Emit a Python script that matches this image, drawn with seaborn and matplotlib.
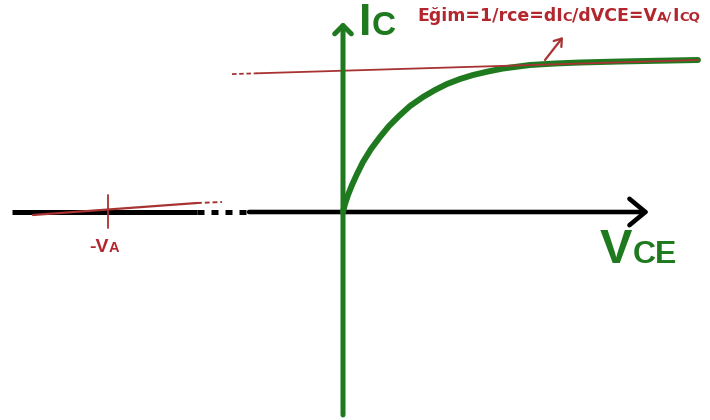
import numpy as np
import pandas as pd
import seaborn as sns
import matplotlib.pyplot as plt

# Sketch of the BJT output characteristic with the Early voltage.
# Units are arbitrary (origin at the axes crossing).
vce = [0, 2, 5, 9, 14, 20, 28, 37, 46, 56, 67, 80, 92, 104, 117, 130, 145,
       160, 187, 212, 237, 277, 317, 355]
ic = [0, 8, 17, 27, 38, 50, 63, 75, 86, 96, 106, 115, 122, 128, 133, 137,
      140.5, 143.5, 147, 148.5, 149.5, 150.5, 151.3, 152]

# tangent in saturation region (slope = 1/rce) and its dashed extension
tangent_v = [-86, 355]
tangent_i = [138.7, 152.0]
tangent_ext_v = [-111, -86]
tangent_ext_i = [137.9, 138.7]

# extrapolation reaching the voltage axis at -VA
early_v = [-310, -146]
early_i = [-3, 9]
early_ext_v = [-146, -121]
early_ext_i = [9, 10]
va_pos = -235
va_tick = [-16, 17]

# axes of the sketch
h_axis = [-331, -146, -94, 306]   # start, gap start, gap end, arrow tip
v_axis = [-203, 190]              # bottom, arrow tip

formula_parts = [("Eğim=1/rce=dI", "big"), ("C", "small"), ("/dVCE=V", "big"),
                 ("A/", "small"), ("I", "big"), ("CQ", "small")]

GREEN = "#1f7a1f"
RED_TEXT = "#b3262e"
RED_LINE = "#a83333"

sns.set_style("white")
plt.rcParams["font.family"] = ["Liberation Sans", "DejaVu Sans"]

fig = plt.figure(figsize=(7.1, 4.2), dpi=100)
ax = fig.add_axes([0, 0, 1, 1])
ax.set_xlim(-343, 367)
ax.set_ylim(-208, 212)
ax.axis("off")

# horizontal (VCE) axis, broken by a dashed piece
ax.plot(h_axis[0:2], [0, 0], color="black", lw=3.6, solid_capstyle="butt", zorder=1)
ax.plot(h_axis[1:3], [0, 0], color="black", lw=3.6, dashes=(1.4, 1.4),
        dash_capstyle="butt", zorder=1)
ax.annotate("", xy=(h_axis[3], 0), xytext=(h_axis[2], 0),
            arrowprops=dict(arrowstyle="->,head_length=1.15,head_width=0.95",
                            color="black", lw=3.3, mutation_scale=10,
                            shrinkA=0, shrinkB=0), zorder=1)

# Early voltage extrapolation
sns.lineplot(x=early_v, y=early_i, ax=ax, color=RED_LINE, lw=1.6, zorder=2)
sns.lineplot(x=early_ext_v, y=early_ext_i, ax=ax, color=RED_LINE, lw=1.4,
             dashes=(2.5, 1.5), zorder=2)
ax.plot([va_pos, va_pos], va_tick, color=RED_LINE, lw=1.3, zorder=2)

# output characteristic
sns.lineplot(x=vce, y=ic, ax=ax, color=GREEN, lw=4.3, zorder=3)
sns.lineplot(x=tangent_v, y=tangent_i, ax=ax, color=RED_LINE, lw=1.3, zorder=4)
sns.lineplot(x=tangent_ext_v, y=tangent_ext_i, ax=ax, color=RED_LINE, lw=1.3,
             dashes=(2.5, 1.5), zorder=4)

# vertical (IC) axis
ax.annotate("", xy=(0, v_axis[1]), xytext=(0, v_axis[0]),
            arrowprops=dict(arrowstyle="->,head_length=0.6,head_width=0.6",
                            color=GREEN, lw=3.6, mutation_scale=10,
                            shrinkA=0, shrinkB=0), zorder=5)

# slope pointer
ax.annotate("", xy=(220, 175), xytext=(202, 152),
            arrowprops=dict(arrowstyle="->,head_length=0.5,head_width=0.35",
                            color=RED_LINE, lw=1.6, mutation_scale=10,
                            shrinkA=0, shrinkB=0), zorder=5)

renderer = fig.canvas.get_renderer()


def rich_text(x, y, parts, sizes, color, family=None):
    # place text pieces of different size on one common baseline
    for s, key in parts:
        t = ax.text(x, y, s, fontsize=sizes[key], fontweight="bold",
                    color=color, va="baseline", ha="left", family=family)
        bb = t.get_window_extent(renderer)
        x = ax.transData.inverted().transform((bb.x1, bb.y0))[0]


rich_text(16, 177, [("I", "big"), ("C", "small")], {"big": 32, "small": 24}, GREEN)
rich_text(257, -51, [("V", "big"), ("CE", "small")], {"big": 35, "small": 23}, GREEN)
rich_text(74, 191, formula_parts, {"big": 12.5, "small": 9.5}, RED_TEXT,
          family=["DejaVu Sans"])
rich_text(-254, -40, [("-V", "big"), ("A", "small")], {"big": 14, "small": 10.5}, RED_TEXT)

fig.savefig("out.png", dpi=100)
